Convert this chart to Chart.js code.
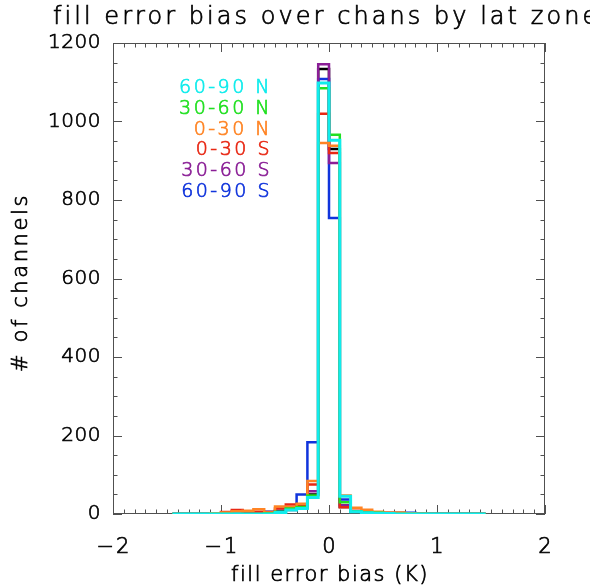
<!DOCTYPE html>
<html>
<head>
<meta charset="utf-8">
<script src="https://cdn.jsdelivr.net/npm/chart.js@4/dist/chart.umd.min.js"></script>
<style>
  html, body { margin: 0; padding: 0; background: #ffffff; }
  #wrap { width: 590px; height: 587px; }
</style>
</head>
<body>
<div id="wrap"><canvas id="c" width="590" height="587"></canvas></div>
<script>
// Histogram bin centres (K); bins are 0.1 K wide
const binCenters = [-1.45, -1.35, -1.25, -1.15, -1.05, -0.95, -0.85, -0.75, -0.65, -0.55,
                    -0.45, -0.35, -0.25, -0.15, -0.05, 0.05, 0.15, 0.25, 0.35, 0.45,
                    0.55, 0.65, 0.75, 0.85, 0.95, 1.05, 1.15, 1.25, 1.35, 1.45];

// Channel counts per bin for each latitude zone
const north60to90 = [0, 0, 0, 0, 0, 0, 0, 0, 0, 0, 4, 10, 14, 42, 1098, 952, 45, 6, 3, 2, 1, 0, 0, 0, 0, 0, 0, 0, 0, 0];
const north30to60 = [0, 0, 0, 0, 0, 0, 0, 0, 0, 1, 6, 14, 18, 47, 1085, 966, 30, 7, 4, 3, 1, 0, 0, 0, 0, 0, 0, 0, 0, 0];
const north0to30  = [0, 0, 0, 0, 2, 4, 7, 8, 12, 4, 19, 18, 26, 84, 945, 938, 47, 16, 11, 6, 4, 4, 2, 1, 0, 0, 0, 0, 0, 0];
const south0to30  = [0, 0, 0, 0, 2, 5, 10, 5, 6, 5, 14, 24, 22, 75, 1020, 920, 17, 8, 5, 3, 2, 1, 0, 0, 0, 0, 0, 0, 0, 0];
const south30to60 = [0, 0, 0, 0, 0, 0, 0, 0, 1, 2, 5, 10, 15, 58, 1146, 894, 22, 6, 3, 2, 1, 0, 0, 0, 0, 0, 0, 0, 0, 0];
const south60to90 = [0, 0, 0, 0, 0, 0, 0, 0, 2, 6, 8, 12, 50, 183, 1108, 754, 37, 6, 5, 4, 3, 3, 3, 1, 0, 0, 0, 0, 0, 0];
const allZones    = [0, 0, 0, 0, 0, 0, 0, 0, 1, 2, 6, 14, 20, 50, 1134, 930, 18, 6, 4, 2, 1, 0, 0, 0, 0, 0, 0, 0, 0, 0];

const zoneLabels = ['60-90 N', '30-60 N', '0-30 N', '0-30 S', '30-60 S', '60-90 S'];
const zoneColors = ['#10ecec', '#22e022', '#ff8424', '#e82814', '#8a1e96', '#1034dc'];

// Axis ticks and labels
const xTickValues = [-2, -1, 0, 1, 2];
const xTickLabels = ['\u22122', '\u22121', '0', '1', '2'];
const yTickValues = [0, 200, 400, 600, 800, 1000, 1200];
const yTickLabels = ['0', '200', '400', '600', '800', '1000', '1200'];

const titleText = 'fill error bias over chans by lat zone';
const xTitleText = 'fill error bias (K)';
const yTitleText = '# of channels';

const FONT = '"DejaVu Sans", "Liberation Sans", sans-serif';

function toPoints(counts) {
  return counts.map((v, i) => ({ x: binCenters[i], y: v }));
}

const zoneSeries = [north60to90, north30to60, north0to30, south0to30, south30to60, south60to90];

const datasets = zoneSeries.map((s, i) => ({
  label: zoneLabels[i],
  data: toPoints(s),
  borderColor: zoneColors[i],
  borderWidth: i === 0 ? 3 : 2.5,
}));
datasets.push({
  label: 'all',
  data: toPoints(allZones),
  borderColor: '#000000',
  borderWidth: 2.5,
});

// Thin-stroke lettering: light face, filled and lightly outlined in its own colour
function drawText(ctx, text, x, y, spacing, color) {
  ctx.letterSpacing = spacing + 'px';
  ctx.fillStyle = color;
  ctx.strokeStyle = color;
  ctx.lineWidth = 0.7;
  ctx.fillText(text, x, y);
  ctx.strokeText(text, x, y);
  ctx.letterSpacing = '0px';
}

// Box frame with inward ticks on all four sides, drawn under the histograms
const framePlugin = {
  id: 'frame',
  beforeDatasetsDraw(chart) {
    const { ctx, chartArea: a, scales: { x, y } } = chart;
    ctx.save();
    ctx.strokeStyle = '#505050';
    ctx.lineWidth = 1;
    ctx.strokeRect(a.left + 0.5, a.top + 0.5, a.right - a.left - 1, a.bottom - a.top - 1);
    ctx.beginPath();
    for (let k = -20; k <= 20; k++) {
      const px = Math.round(x.getPixelForValue(k / 10)) + 0.5;
      const len = (k % 10 === 0) ? 9 : 4.5;
      ctx.moveTo(px, a.bottom); ctx.lineTo(px, a.bottom - len);
      ctx.moveTo(px, a.top); ctx.lineTo(px, a.top + len);
    }
    for (let v = 0; v <= 1200; v += 50) {
      const py = Math.round(y.getPixelForValue(v)) + 0.5;
      const len = (v % 200 === 0) ? 9 : 4.5;
      ctx.moveTo(a.left, py); ctx.lineTo(a.left + len, py);
      ctx.moveTo(a.right, py); ctx.lineTo(a.right - len, py);
    }
    ctx.stroke();
    ctx.restore();
  },
  afterDraw(chart) {
    const { ctx, chartArea: a, scales: { x, y } } = chart;
    ctx.save();
    ctx.textBaseline = 'middle';

    // tick labels
    ctx.font = '200 21px ' + FONT;
    ctx.textAlign = 'center';
    xTickValues.forEach((v, i) => {
      drawText(ctx, xTickLabels[i], x.getPixelForValue(v) + 1, a.bottom + 34, 2, '#000');
    });
    ctx.font = '200 20px ' + FONT;
    ctx.textAlign = 'right';
    yTickValues.forEach((v, i) => {
      drawText(ctx, yTickLabels[i], a.left - 12, y.getPixelForValue(v), 0.5, '#000');
    });

    // axis titles
    ctx.font = '200 21px ' + FONT;
    ctx.textAlign = 'center';
    drawText(ctx, xTitleText, (a.left + a.right) / 2 + 1, a.bottom + 62, 1.5, '#000');
    ctx.save();
    ctx.translate(22, (a.top + a.bottom) / 2 + 4);
    ctx.rotate(-Math.PI / 2);
    drawText(ctx, yTitleText, 0, 0, 2.6, '#000');
    ctx.restore();

    // plot title
    ctx.font = '200 24px ' + FONT;
    ctx.textAlign = 'left';
    drawText(ctx, titleText, 53, 18, 3.05, '#000');

    // zone key, right-aligned coloured text
    ctx.font = '200 19px ' + FONT;
    ctx.textAlign = 'right';
    zoneLabels.forEach((lab, i) => {
      drawText(ctx, lab, 272, 88 + i * 20.8, 2.5, zoneColors[i]);
    });
    ctx.restore();
  }
};

new Chart(document.getElementById('c'), {
  type: 'line',
  data: { datasets },
  options: {
    responsive: false,
    animation: false,
    devicePixelRatio: 1,
    layout: { padding: { left: 113, right: 45, top: 43, bottom: 73 } },
    elements: {
      line: { stepped: 'middle', fill: false, tension: 0 },
      point: { radius: 0, hoverRadius: 0 }
    },
    plugins: {
      legend: { display: false },
      title: { display: false },
      tooltip: { enabled: false }
    },
    scales: {
      x: { type: 'linear', min: -2, max: 2, display: false },
      y: { type: 'linear', min: 0, max: 1200, display: false }
    }
  },
  plugins: [framePlugin]
});
</script>
</body>
</html>
